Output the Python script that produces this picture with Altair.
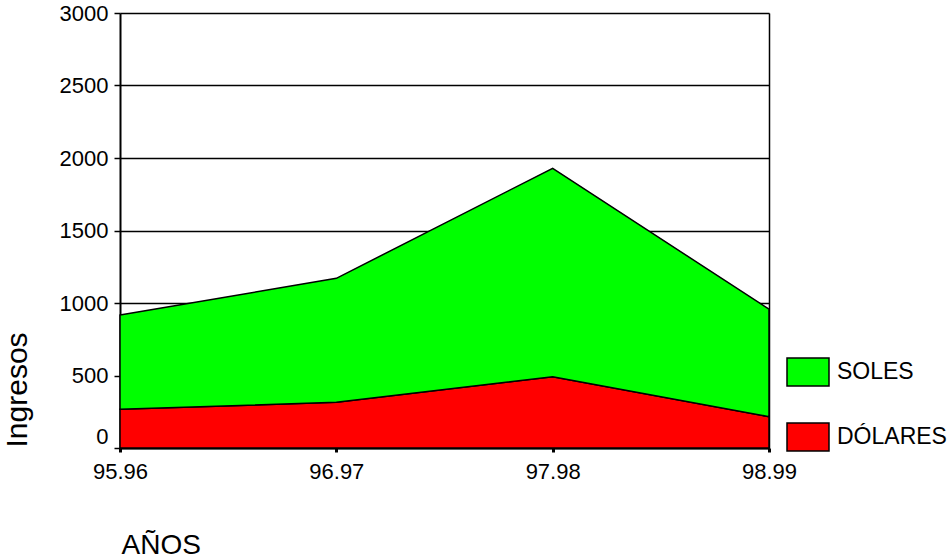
import altair as alt
import pandas as pd

# Income by academic year, stacked: dollars at the bottom, soles on top
years = ["95.96", "96.97", "97.98", "98.99"]
dolares = [267, 315, 492, 216]
soles = [650, 855, 1437, 741]

series_names = ["SOLES", "DÓLARES"]
series_colors = ["#00ff00", "#ff0000"]

rows = []
for i, y in enumerate(years):
    rows.append({"anio": y, "serie": "DÓLARES", "valor": dolares[i], "orden": 0})
    rows.append({"anio": y, "serie": "SOLES", "valor": soles[i], "orden": 1})
df = pd.DataFrame(rows)

FONT = "Liberation Sans"
W, H = 649, 435

x_enc = alt.X(
    "anio:O",
    sort=years,
    scale=alt.Scale(type="point", padding=0),
    axis=alt.Axis(
        title="AÑOS",
        labelAngle=0,
        labelFontSize=22,
        labelFont=FONT,
        labelColor="black",
        labelPadding=9,
        tickSize=4,
        tickWidth=3,
        tickColor="black",
        domainColor="black",
        domainWidth=2,
        grid=False,
        titleFont=FONT,
        titleFontSize=28,
        titleFontWeight="normal",
        titleColor="black",
        titleAnchor="start",
        titleAlign="left",
        titleBaseline="alphabetic",
        titleX=1,
        titleY=105,
    ),
)

areas = (
    alt.Chart(df)
    .mark_area(stroke="black", strokeWidth=1.5, opacity=1)
    .encode(
        x=x_enc,
        y=alt.Y(
            "valor:Q",
            stack="zero",
            scale=alt.Scale(domain=[0, 3000], nice=False),
            axis=alt.Axis(
                title="Ingresos",
                values=[0, 500, 1000, 1500, 2000, 2500, 3000],
                format="d",
                labelFontSize=22,
                labelFont=FONT,
                labelColor="black",
                labelPadding=6,
                labelBaseline={
                    "condition": {"test": "datum.value == 0", "value": "bottom"},
                    "value": "middle",
                },
                tickSize=6,
                tickWidth=1.5,
                tickColor="black",
                domainColor="black",
                domainWidth=2,
                grid=True,
                gridColor="black",
                gridWidth=1.5,
                gridOpacity=1,
                titleFont=FONT,
                titleFontSize=30,
                titleFontWeight="normal",
                titleColor="black",
                titleAngle=270,
                titleAlign="left",
                titleBaseline="alphabetic",
                titleX=-94,
                titleY=434,
            ),
        ),
        color=alt.Color(
            "serie:N",
            scale=alt.Scale(domain=series_names, range=series_colors),
            legend=alt.Legend(
                title=None,
                orient="none",
                legendX=666,
                legendY=337,
                padding=0,
                symbolType="M-1,-0.667L1,-0.667L1,0.667L-1,0.667Z",
                symbolSize=1764,
                symbolStrokeColor="black",
                symbolStrokeWidth=1.5,
                symbolOpacity=1,
                labelFont=FONT,
                labelFontSize=23,
                labelColor="black",
                labelOffset=7,
                rowPadding=25,
            ),
        ),
        order=alt.Order("orden:Q", sort="ascending"),
    )
)

# Right-hand frame line: a bare axis on the right edge of the plot area
frame = (
    alt.Chart(df)
    .mark_point(opacity=0)
    .encode(
        x=x_enc,
        y=alt.Y(
            "valor:Q",
            scale=alt.Scale(domain=[0, 3000], nice=False),
            axis=alt.Axis(
                orient="right",
                title=None,
                labels=False,
                ticks=False,
                grid=False,
                domainColor="black",
                domainWidth=1.5,
            ),
        ),
    )
)

chart = (
    alt.layer(areas, frame)
    .resolve_scale(y="independent")
    .resolve_axis(y="independent")
    .properties(
        width=W,
        height=H,
        autosize=alt.AutoSizeParams(type="none"),
        padding={"left": 120, "top": 13, "right": 179, "bottom": 112},
    )
    .configure_view(stroke="black", strokeWidth=1.5)
    .configure(background="white")
)

chart.save("out.html", embed_options={"renderer": "svg", "actions": False})
